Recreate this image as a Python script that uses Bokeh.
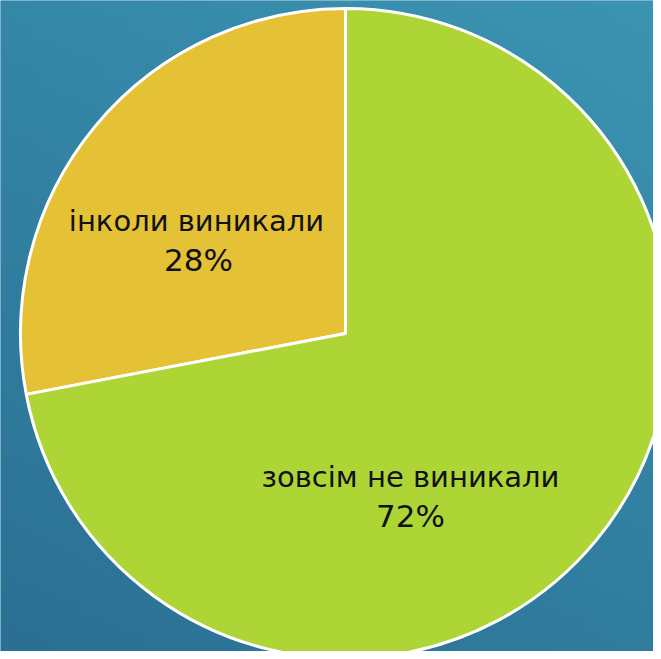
import numpy as np
from bokeh.plotting import figure
from bokeh.models import Range1d, ColumnDataSource
from bokeh.core.properties import value
from bokeh.embed import file_html
from bokeh.resources import INLINE

# ---- data ----
categories = ["інколи виникали", "зовсім не виникали"]
shares = [28, 72]
labels = ["28%", "72%"]
colors = ["#e5c135", "#add536"]

# ---- layout ----
W, H = 653, 651
CX, CY, R = 345, H - 333, 325

p = figure(width=W, height=H, output_backend="svg", toolbar_location=None,
           x_range=Range1d(0, W), y_range=Range1d(0, H), min_border=0)
p.axis.visible = False
p.grid.visible = False
p.outline_line_color = None
p.background_fill_color = "#3587a8"
p.border_fill_color = "#3587a8"

# background gradient (light top-right -> darker bottom-left)
n = 64
yy, xx = np.mgrid[0:n, 0:n] / (n - 1)
t = np.clip(0.35 * xx + 0.65 * yy, 0, 1)
c0 = np.array([0x2b, 0x70, 0x94])
c1 = np.array([0x3b, 0x94, 0xb2])
img = np.zeros((n, n), dtype=np.uint32)
view = img.view(dtype=np.uint8).reshape((n, n, 4))
for k in range(3):
    view[:, :, k] = (c0[k] + (c1[k] - c0[k]) * t).astype(np.uint8)
view[:, :, 3] = 255
p.image_rgba(image=[img], x=0, y=0, dw=W, dh=H)

# wedges from shares
fr = np.array(shares, dtype=float) / sum(shares)
start = np.pi / 2 + np.concatenate([[0], np.cumsum(fr)[:-1]]) * 2 * np.pi
end = np.pi / 2 + np.cumsum(fr) * 2 * np.pi
src = ColumnDataSource(dict(cat=categories, share=shares, start=start, end=end, color=colors))
p.wedge(x=CX, y=CY, radius=R, start_angle="start", end_angle="end",
        fill_color="color", line_color="white", line_width=3, source=src)

# labels (baseline positions, from top of picture)
lx = [196, 410]
ly_cat = [220, 476]
lx_pct = [198, 410]
ly_pct = [259, 515]
for i in range(2):
    p.text(x=[lx[i]], y=[H - ly_cat[i]], text=[categories[i]], text_align="center",
           text_baseline="alphabetic", text_font=value("DejaVu Sans"),
           text_font_size="29px", text_color="#111111")
    p.text(x=[lx_pct[i]], y=[H - ly_pct[i]], text=[labels[i]], text_align="center",
           text_baseline="alphabetic", text_font=value("DejaVu Sans"),
           text_font_size="31px", text_color="#111111")

open("out.html", "w").write(file_html(p, INLINE))
